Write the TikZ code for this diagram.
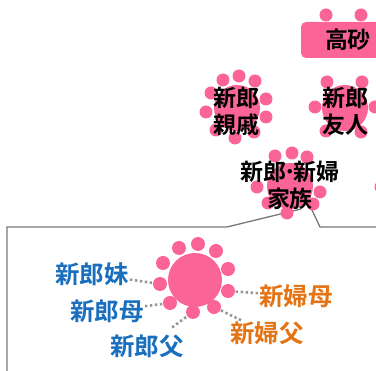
\documentclass[tikz,border=0pt]{standalone}
\usepackage{fontspec}
\newfontfamily\cjk{Noto Sans CJK JP}[BoldFont={Noto Sans CJK JP Bold}]
\definecolor{pinkc}{RGB}{250,100,150}
\definecolor{bluec}{RGB}{25,110,190}
\definecolor{orangec}{RGB}{228,115,20}
\definecolor{linec}{RGB}{120,120,120}
\definecolor{dotc}{RGB}{150,150,150}
\begin{document}
\begin{tikzpicture}[x=1pt,y=-1pt,
  blob/.style={circle,fill=pinkc,draw=none,inner sep=0pt,minimum size=#1},
  blob/.default=46pt,
  bead/.style={circle,fill=pinkc,draw=none,inner sep=0pt,minimum size=#1},
  bead/.default=13pt,
  lbl/.style={font=\cjk\bfseries\fontsize{23}{27}\selectfont,align=center,inner sep=1pt,text=black},
  member/.style={font=\cjk\bfseries\fontsize{24.5}{24.5}\selectfont,inner sep=1pt},
  groom/.style={member,text=bluec},
  bride/.style={member,text=orangec},
  boxline/.style={draw=linec,line width=1.3pt},
  dotline/.style={draw=dotc,line width=2.6pt,dash pattern=on 2.4pt off 2.6pt}]
\useasboundingbox (0,0) rectangle (376,371);

% callout frame
\draw[boxline] (7,371) -- (7,227) -- (227,227) -- (301,209);
\draw[boxline] (311,208) -- (320,227) -- (376,227);

% 高砂
\node[bead] (t1) at (326,15) {};
\node[bead] (t2) at (361,15) {};
\fill[pinkc,rounded corners=5pt] (301,22) rectangle (390,58);
\node[lbl] (takasago) at (348,40) {高砂};

% 新郎親戚
\node[blob] (r0) at (237,108) {};
\foreach \p [count=\i] in {(223,80),(239,76),(255,81),(266,99),(266,117),(254,132),(235,138),(216,130),(206,112),(211,93)}
  \node[bead] (r\i) at \p {};
\node[lbl] (relatives) at (237,111.5) {新郎\\親戚};

% 新郎友人
\node[blob] (f0) at (345,108) {};
\foreach \p [count=\i] in {(327,82),(362,82),(315,107),(375,107),(326,131),(361,132)}
  \node[bead] (f\i) at \p {};
\node[lbl] (friends) at (346,111.5) {新郎\\友人};

% 新郎・新婦 家族
\node[blob] (k0) at (290,186) {};
\foreach \p [count=\i] in {(275,156),(292,153),(307,157),(257,187),(320,192),(268,203),(287,213),(313,204)}
  \node[bead] (k\i) at \p {};
\node[bead] (x1) at (381,187) {};
\node[lbl] (family) at (290,185.5) {新郎\kern-2pt･\kern-2pt新婦\\家族};

% members
\node[groom] (sis) at (92,274) {新郎妹};
\node[groom] (mom) at (107,311) {新郎母};
\node[groom] (dad) at (147,346) {新郎父};
\node[bride] (bmom) at (296,296) {新婦母};
\node[bride] (bdad) at (267,333) {新婦父};

% big sun
\node[blob=54pt] (s0) at (195,280) {};
\foreach \p [count=\i] in {(179,248),(198,244),(216,251),(163,263),(228,269),(160,284),(228,291),(170,303),(193,312),(214,307)}
  \node[bead=14pt] (g\i) at \p {};

\draw[dotline] (sis) -- (g6);
\draw[dotline] (mom) -- (g8);
\draw[dotline,shorten <=10pt] (dad) -- (g9);
\draw[dotline] (bmom) -- (g7);
\draw[dotline] (bdad) -- (g10);
\end{tikzpicture}
\end{document}
